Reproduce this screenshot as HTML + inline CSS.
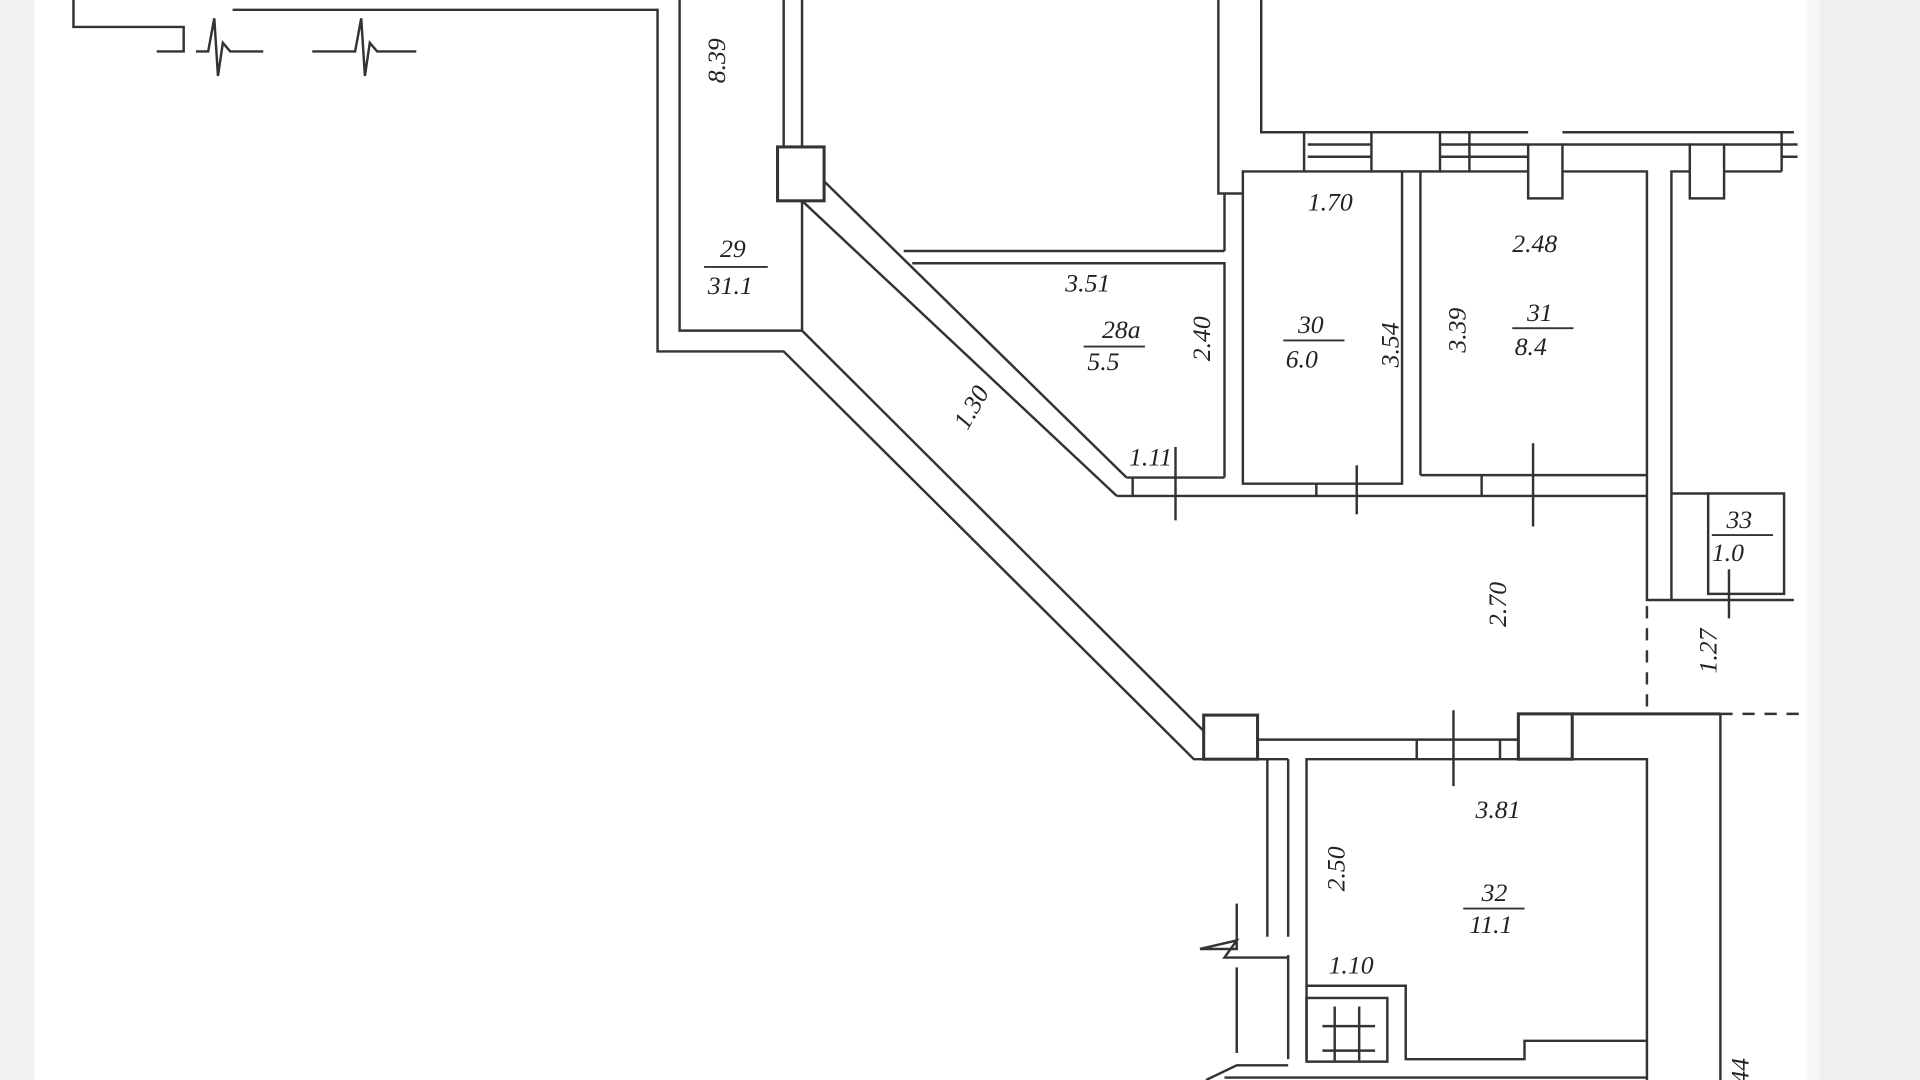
<!DOCTYPE html>
<html><head><meta charset="utf-8"><style>
html,body{margin:0;padding:0;background:#fff;}
svg{display:block;}
text{font-family:"Liberation Serif",serif;font-style:italic;fill:#222;font-size:21px;}
</style></head><body>
<svg width="1920" height="1080" viewBox="0 0 1568 882" preserveAspectRatio="none" xmlns="http://www.w3.org/2000/svg">
<rect x="0" y="0" width="1568" height="882" fill="#fff"/>
<rect x="0" y="0" width="28" height="882" fill="#f1f1f1"/>
<rect x="1476" y="0" width="92" height="882" fill="#efefef"/>
<rect x="1476" y="0" width="10" height="882" fill="#f7f7f7"/>
<g fill="none" stroke="#333" stroke-width="2">
<!-- top left -->
<polyline points="60,0 60,22 150,22 150,42 128,42"/>
<polyline points="160,42 170,42 175,15 178,62 182,35 188,42 215,42"/>
<polyline points="255,42 290,42 295,15 298,62 302,35 308,42 340,42"/>
<polyline points="190,8 537,8 537,287 640,287 975,620 1035,620 1035,765"/>
<polyline points="555,0 555,270 655,270 655,165"/>
<line x1="640" y1="0" x2="640" y2="120"/>
<line x1="655" y1="0" x2="655" y2="120"/>
<rect x="635" y="120" width="38" height="44" stroke-width="2.5"/>
<!-- diagonals -->
<line x1="655" y1="270" x2="983" y2="597"/>
<line x1="673" y1="148" x2="920" y2="390"/>
<line x1="655" y1="164" x2="912" y2="405"/>
<polyline points="920,390 1000,390"/>
<line x1="912" y1="405" x2="1345" y2="405"/>
<line x1="738" y1="205" x2="1000" y2="205"/>
<polyline points="745,215 1000,215 1000,390"/>
<line x1="1000" y1="158" x2="1000" y2="205"/>
<!-- thick wall upper -->
<polyline points="995,0 995,158 1015,158 1015,140 1120,140"/>
<polyline points="1030,0 1030,108 1120,108"/>
<line x1="1065" y1="108" x2="1065" y2="140"/>
<line x1="1068" y1="118" x2="1120" y2="118"/>
<line x1="1068" y1="128" x2="1120" y2="128"/>
<rect x="1120" y="108" width="56" height="32"/>
<line x1="1176" y1="108" x2="1248" y2="108"/>
<line x1="1176" y1="118" x2="1248" y2="118"/>
<line x1="1176" y1="128" x2="1248" y2="128"/>
<line x1="1200" y1="108" x2="1200" y2="140"/>
<line x1="1176" y1="140" x2="1248" y2="140"/>
<rect x="1248" y="118" width="28" height="44"/>
<line x1="1276" y1="118" x2="1380" y2="118"/>
<line x1="1276" y1="108" x2="1465" y2="108"/>
<rect x="1380" y="118" width="28" height="44"/>
<line x1="1408" y1="118" x2="1455" y2="118"/>
<line x1="1455" y1="108" x2="1455" y2="140"/>
<line x1="1408" y1="140" x2="1455" y2="140"/>
<line x1="1455" y1="118" x2="1468" y2="118"/>
<line x1="1455" y1="128" x2="1468" y2="128"/>
<!-- room 30 -->
<polyline points="1015,158 1015,395 1145,395 1145,140"/>
<line x1="1160" y1="140" x2="1160" y2="388"/>
<polyline points="1160,388 1345,388"/>
<polyline points="1276,140 1345,140 1345,490 1365,490 1365,140 1380,140"/>
<line x1="1108" y1="380" x2="1108" y2="420"/>
<line x1="1252" y1="362" x2="1252" y2="430"/>
<line x1="960" y1="365" x2="960" y2="425"/>
<line x1="1075" y1="395" x2="1075" y2="405"/>
<line x1="1210" y1="388" x2="1210" y2="405"/>
<line x1="925" y1="390" x2="925" y2="405"/>
<!-- room 33 -->
<rect x="1395" y="403" width="62" height="82"/>
<line x1="1365" y1="403" x2="1395" y2="403"/>
<line x1="1365" y1="490" x2="1465" y2="490"/>
<line x1="1412" y1="465" x2="1412" y2="505"/>
<line x1="1345" y1="495" x2="1345" y2="580" stroke-dasharray="10,8"/>
<line x1="1405" y1="583" x2="1470" y2="583" stroke-dasharray="10,8"/>
<!-- lower -->
<rect x="983" y="584" width="44" height="36" stroke-width="2.5"/>
<line x1="1027" y1="604" x2="1240" y2="604"/>
<polyline points="1052,620 1052,765"/>
<polyline points="1052,780 1052,865"/>
<line x1="1027" y1="620" x2="1052" y2="620"/>
<line x1="1157" y1="604" x2="1157" y2="620"/>
<line x1="1225" y1="604" x2="1225" y2="620"/>
<line x1="1187" y1="580" x2="1187" y2="642"/>
<polyline points="1067,865 1067,620 1240,620"/>
<rect x="1240" y="583" width="44" height="37" stroke-width="2.5"/>
<line x1="1284" y1="583" x2="1405" y2="583" stroke-width="2.5"/>
<polyline points="1284,620 1345,620 1345,882"/>
<line x1="1405" y1="583" x2="1405" y2="882"/>
<polyline points="1067,805 1148,805 1148,865 1245,865 1245,850 1345,850"/>
<rect x="1067" y="815" width="66" height="52"/>
<line x1="1080" y1="838" x2="1123" y2="838"/>
<line x1="1080" y1="858" x2="1123" y2="858"/>
<line x1="1090" y1="822" x2="1090" y2="866"/>
<line x1="1110" y1="822" x2="1110" y2="866"/>
<line x1="1000" y1="880" x2="1345" y2="880"/>
<polyline points="1010,738 1010,775 980,775 1010,768 1000,782 1052,782"/>
<line x1="1010" y1="790" x2="1010" y2="860"/>
<polyline points="985,882 1010,870 1052,870"/>
</g>
<g stroke="#333" stroke-width="1.5">
<line x1="575" y1="218" x2="627" y2="218"/>
<line x1="885" y1="283" x2="935" y2="283"/>
<line x1="1048" y1="278" x2="1098" y2="278"/>
<line x1="1235" y1="268" x2="1285" y2="268"/>
<line x1="1398" y1="437" x2="1448" y2="437"/>
<line x1="1195" y1="742" x2="1245" y2="742"/>
</g>
<text x="588" y="210">29</text>
<text x="578" y="240">31.1</text>
<text x="900" y="276">28a</text>
<text x="888" y="302">5.5</text>
<text x="1060" y="272">30</text>
<text x="1050" y="300">6.0</text>
<text x="1247" y="262">31</text>
<text x="1237" y="290">8.4</text>
<text x="1410" y="431">33</text>
<text x="1398" y="458">1.0</text>
<text x="1210" y="736">32</text>
<text x="1200" y="762">11.1</text>
<text x="870" y="238">3.51</text>
<text x="1068" y="172">1.70</text>
<text x="1235" y="206">2.48</text>
<text x="922" y="380">1.11</text>
<text x="1205" y="668">3.81</text>
<text x="1085" y="795">1.10</text>
<text transform="translate(592,68) rotate(-90)">8.39</text>
<text transform="translate(988,295) rotate(-90)">2.40</text>
<text transform="translate(1142,300) rotate(-90)">3.54</text>
<text transform="translate(1197,288) rotate(-90)">3.39</text>
<text transform="translate(790,352) rotate(-60)">1.30</text>
<text transform="translate(1230,512) rotate(-90)">2.70</text>
<text transform="translate(1402,550) rotate(-90)">1.27</text>
<text transform="translate(1098,728) rotate(-90)">2.50</text>
<text transform="translate(1428,885) rotate(-90)">44</text>
</svg>
</body></html>
